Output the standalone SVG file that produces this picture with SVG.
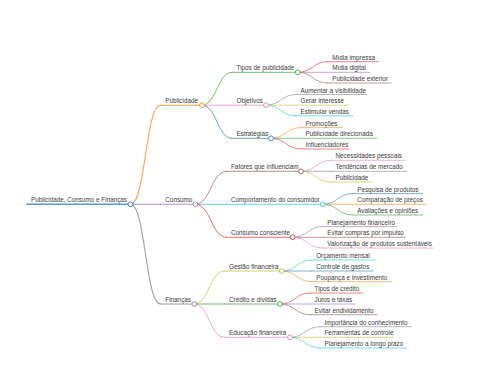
<svg xmlns="http://www.w3.org/2000/svg" width="480" height="384" viewBox="0 0 480 384">
<style>
text{font-family:"Liberation Sans",Arial,sans-serif;font-size:6.33px;fill:#3a3a3a}
path,line{fill:none;stroke-linecap:round}
circle{fill:#fff}
.c0{stroke:#1f77b4}.c1{stroke:#ff7f0e}.c2{stroke:#2ca02c}.c3{stroke:#d62728}.c4{stroke:#9467bd}
.c5{stroke:#8c564b}.c6{stroke:#e377c2}.c7{stroke:#7f7f7f}.c8{stroke:#bcbd22}.c9{stroke:#17becf}
.w0{stroke-width:1.6}.w1{stroke-width:1.1}.w2{stroke-width:0.9}.w3{stroke-width:0.75}
circle{stroke-width:0.8}
path,line{stroke-opacity:0.75}
</style>
<rect width="480" height="384" fill="#fff"/>
<g id="connectors">
<path class="c1 w1" d="M130.5,204.3 C145.5,204.3 145.5,105.2 160.5,105.2"/>
<path class="c4 w1" d="M130.5,204.3 L160.5,204.3"/>
<path class="c7 w1" d="M130.5,204.3 C145.5,204.3 145.5,304 160.5,304"/>
<path class="c2 w2" d="M202,105.2 C217,105.2 217,72.3 232,72.3"/>
<path class="c6 w2" d="M202,105.2 L232,105.2"/>
<path class="c0 w2" d="M202,105.2 C217,105.2 217,138.3 232,138.3"/>
<path class="c5 w2" d="M195.5,204.3 C211,204.3 211,171.3 226.5,171.3"/>
<path class="c9 w2" d="M195.5,204.3 L226.5,204.3"/>
<path class="c3 w2" d="M195.5,204.3 C211,204.3 211,237.3 226.5,237.3"/>
<path class="c8 w2" d="M194.3,304 C209.4,304 209.4,271 224.5,271"/>
<path class="c2 w2" d="M194.3,304 L224.5,304"/>
<path class="c6 w2" d="M194.3,304 C209.4,304 209.4,337.3 224.5,337.3"/>
<path class="c3 w3" d="M297.7,72.3 C312.7,72.3 312.7,61.7 327.7,61.7"/>
<path class="c4 w3" d="M297.7,72.3 L327.7,72.3"/>
<path class="c5 w3" d="M297.7,72.3 C312.7,72.3 312.7,83 327.7,83"/>
<path class="c7 w3" d="M266,105.2 C281,105.2 281,94.5 296,94.5"/>
<path class="c8 w3" d="M266,105.2 L296,105.2"/>
<path class="c9 w3" d="M266,105.2 C281,105.2 281,115.8 296,115.8"/>
<path class="c1 w3" d="M271,138.3 C286,138.3 286,127.6 301,127.6"/>
<path class="c2 w3" d="M271,138.3 L301,138.3"/>
<path class="c3 w3" d="M271,138.3 C286,138.3 286,149 301,149"/>
<path class="c6 w3" d="M301,171.3 C316,171.3 316,160.3 331,160.3"/>
<path class="c7 w3" d="M301,171.3 L331,171.3"/>
<path class="c8 w3" d="M301,171.3 C316,171.3 316,182 331,182"/>
<path class="c0 w3" d="M322.7,204.3 C337.7,204.3 337.7,193.6 352.7,193.6"/>
<path class="c1 w3" d="M322.7,204.3 L352.7,204.3"/>
<path class="c2 w3" d="M322.7,204.3 C337.7,204.3 337.7,215 352.7,215"/>
<path class="c4 w3" d="M292.7,237.3 C307.7,237.3 307.7,226.6 322.7,226.6"/>
<path class="c5 w3" d="M292.7,237.3 L322.7,237.3"/>
<path class="c6 w3" d="M292.7,237.3 C307.7,237.3 307.7,248 322.7,248"/>
<path class="c9 w3" d="M281.7,271 C296.7,271 296.7,260 311.7,260"/>
<path class="c0 w3" d="M281.7,271 L311.7,271"/>
<path class="c1 w3" d="M281.7,271 C296.7,271 296.7,281.7 311.7,281.7"/>
<path class="c3 w3" d="M280,304 C295,304 295,293 310,293"/>
<path class="c4 w3" d="M280,304 L310,304"/>
<path class="c5 w3" d="M280,304 C295,304 295,314.7 310,314.7"/>
<path class="c7 w3" d="M290,337.3 C305,337.3 305,326.7 320,326.7"/>
<path class="c8 w3" d="M290,337.3 L320,337.3"/>
<path class="c9 w3" d="M290,337.3 C305,337.3 305,348 320,348"/>
</g>
<g id="n-root"><line class="c0 w0" x1="27" y1="204.3" x2="130.5" y2="204.3"/><text x="31" y="202.3">Publicidade, Consumo e Finanças</text><circle class="c0" cx="130.5" cy="204.3" r="2.4"/></g>
<g id="n-publicidade"><line class="c1 w1" x1="160.5" y1="105.2" x2="202" y2="105.2"/><text x="165.3" y="103.2">Publicidade</text><circle class="c1" cx="202" cy="105.2" r="2.4"/></g>
<g id="n-consumo"><line class="c4 w1" x1="160.5" y1="204.3" x2="195.5" y2="204.3"/><text x="165.3" y="202.3">Consumo</text><circle class="c4" cx="195.5" cy="204.3" r="2.4"/></g>
<g id="n-financas"><line class="c7 w1" x1="160.5" y1="304" x2="194.3" y2="304"/><text x="165.3" y="302">Finanças</text><circle class="c7" cx="194.3" cy="304" r="2.4"/></g>
<g id="n-tipos"><line class="c2 w2" x1="232" y1="72.3" x2="297.7" y2="72.3"/><text x="236.5" y="70.3">Tipos de publicidade</text><circle class="c2" cx="297.7" cy="72.3" r="2.4"/></g>
<g id="n-objetivos"><line class="c6 w2" x1="232" y1="105.2" x2="266" y2="105.2"/><text x="236.5" y="103.2">Objetivos</text><circle class="c6" cx="266" cy="105.2" r="2.4"/></g>
<g id="n-estrategias"><line class="c0 w2" x1="232" y1="138.3" x2="271" y2="138.3"/><text x="236.5" y="136.3">Estratégias</text><circle class="c0" cx="271" cy="138.3" r="2.4"/></g>
<g id="n-fatores"><line class="c5 w2" x1="226.5" y1="171.3" x2="301" y2="171.3"/><text x="231" y="169.3">Fatores que influenciam</text><circle class="c5" cx="301" cy="171.3" r="2.4"/></g>
<g id="n-comportamento"><line class="c9 w2" x1="226.5" y1="204.3" x2="322.7" y2="204.3"/><text x="231" y="202.3">Comportamento do consumidor</text><circle class="c9" cx="322.7" cy="204.3" r="2.4"/></g>
<g id="n-consciente"><line class="c3 w2" x1="226.5" y1="237.3" x2="292.7" y2="237.3"/><text x="231" y="235.3">Consumo consciente</text><circle class="c3" cx="292.7" cy="237.3" r="2.4"/></g>
<g id="n-gestao"><line class="c8 w2" x1="224.5" y1="271" x2="281.7" y2="271"/><text x="229" y="269">Gestão financeira</text><circle class="c8" cx="281.7" cy="271" r="2.4"/></g>
<g id="n-credito"><line class="c2 w2" x1="224.5" y1="304" x2="280" y2="304"/><text x="229" y="302">Crédito e dívidas</text><circle class="c2" cx="280" cy="304" r="2.4"/></g>
<g id="n-educacao"><line class="c6 w2" x1="224.5" y1="337.3" x2="290" y2="337.3"/><text x="229" y="335.3">Educação financeira</text><circle class="c6" cx="290" cy="337.3" r="2.4"/></g>
<g id="n-midia-impressa"><line class="c3 w3" x1="327.7" y1="61.7" x2="378.5" y2="61.7"/><text x="332.2" y="59.7">Mídia impressa</text></g>
<g id="n-midia-digital"><line class="c4 w3" x1="327.7" y1="72.3" x2="369.5" y2="72.3"/><text x="332.2" y="70.3">Mídia digital</text></g>
<g id="n-pub-exterior"><line class="c5 w3" x1="327.7" y1="83" x2="391" y2="83"/><text x="332.2" y="81">Publicidade exterior</text></g>
<g id="n-aumentar"><line class="c7 w3" x1="296" y1="94.5" x2="366.7" y2="94.5"/><text x="300.5" y="92.5">Aumentar a visibilidade</text></g>
<g id="n-gerar"><line class="c8 w3" x1="296" y1="105.2" x2="348" y2="105.2"/><text x="300.5" y="103.2">Gerar interesse</text></g>
<g id="n-estimular"><line class="c9 w3" x1="296" y1="115.8" x2="353" y2="115.8"/><text x="300.5" y="113.8">Estimular vendas</text></g>
<g id="n-promocoes"><line class="c1 w3" x1="301" y1="127.6" x2="342.7" y2="127.6"/><text x="305.5" y="125.6">Promoções</text></g>
<g id="n-pub-direcionada"><line class="c2 w3" x1="301" y1="138.3" x2="377" y2="138.3"/><text x="305.5" y="136.3">Publicidade direcionada</text></g>
<g id="n-influenciadores"><line class="c3 w3" x1="301" y1="149" x2="349" y2="149"/><text x="305.5" y="147">Influenciadores</text></g>
<g id="n-necessidades"><line class="c6 w3" x1="331" y1="160.3" x2="405" y2="160.3"/><text x="335.5" y="158.3">Necessidades pessoais</text></g>
<g id="n-tendencias"><line class="c7 w3" x1="331" y1="171.3" x2="406.7" y2="171.3"/><text x="335.5" y="169.3">Tendências de mercado</text></g>
<g id="n-publicidade2"><line class="c8 w3" x1="331" y1="182" x2="373" y2="182"/><text x="335.5" y="180">Publicidade</text></g>
<g id="n-pesquisa"><line class="c0 w3" x1="352.7" y1="193.6" x2="422.7" y2="193.6"/><text x="357.2" y="191.6">Pesquisa de produtos</text></g>
<g id="n-comparacao"><line class="c1 w3" x1="352.7" y1="204.3" x2="426.7" y2="204.3"/><text x="357.2" y="202.3">Comparação de preços</text></g>
<g id="n-avaliacoes"><line class="c2 w3" x1="352.7" y1="215" x2="422.7" y2="215"/><text x="357.2" y="213">Avaliações e opiniões</text></g>
<g id="n-planejamento-fin"><line class="c4 w3" x1="322.7" y1="226.6" x2="396.7" y2="226.6"/><text x="327.2" y="224.6">Planejamento financeiro</text></g>
<g id="n-evitar-compras"><line class="c5 w3" x1="322.7" y1="237.3" x2="405" y2="237.3"/><text x="327.2" y="235.3">Evitar compras por impulso</text></g>
<g id="n-valorizacao"><line class="c6 w3" x1="322.7" y1="248" x2="433" y2="248"/><text x="327.2" y="246">Valorização de produtos sustentáveis</text></g>
<g id="n-orcamento"><line class="c9 w3" x1="311.7" y1="260" x2="375" y2="260"/><text x="316.2" y="258">Orçamento mensal</text></g>
<g id="n-controle"><line class="c0 w3" x1="311.7" y1="271" x2="373.3" y2="271"/><text x="316.2" y="269">Controle de gastos</text></g>
<g id="n-poupanca"><line class="c1 w3" x1="311.7" y1="281.7" x2="391.7" y2="281.7"/><text x="316.2" y="279.7">Poupança e investimento</text></g>
<g id="n-tipos-credito"><line class="c3 w3" x1="310" y1="293" x2="363" y2="293"/><text x="314.5" y="291">Tipos de crédito</text></g>
<g id="n-juros"><line class="c4 w3" x1="310" y1="304" x2="355" y2="304"/><text x="314.5" y="302">Juros e taxas</text></g>
<g id="n-evitar-endiv"><line class="c5 w3" x1="310" y1="314.7" x2="377.3" y2="314.7"/><text x="314.5" y="312.7">Evitar endividamento</text></g>
<g id="n-importancia"><line class="c7 w3" x1="320" y1="326.7" x2="411.7" y2="326.7"/><text x="324.5" y="324.7">Importância do conhecimento</text></g>
<g id="n-ferramentas"><line class="c8 w3" x1="320" y1="337.3" x2="393.3" y2="337.3"/><text x="324.5" y="335.3">Ferramentas de controle</text></g>
<g id="n-planejamento-longo"><line class="c9 w3" x1="320" y1="348" x2="406.7" y2="348"/><text x="324.5" y="346">Planejamento a longo prazo</text></g>
</svg>
